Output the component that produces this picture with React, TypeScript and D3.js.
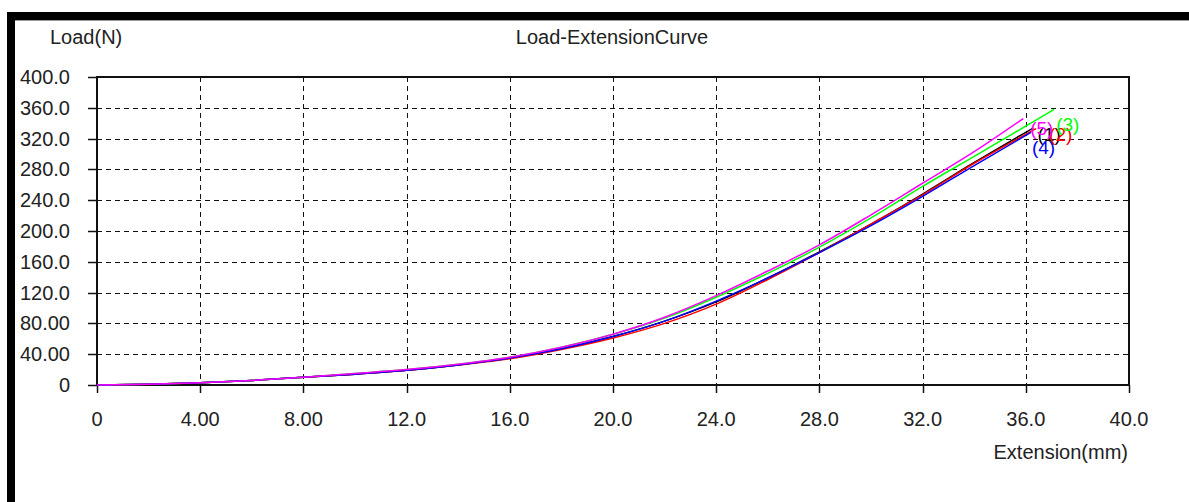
import React from "react";
import * as d3 from "d3";

// extension (mm) readings, shared by all specimens
const ext = [0, 2, 4, 6, 8, 10, 12, 14, 16, 18, 20, 22, 24, 26, 28, 30, 32, 34];

// load (N) per specimen at the extensions above, then the break point
const load1 = [0, 1, 3, 6, 10, 14, 19, 26, 35, 47, 63, 83, 108, 139, 173, 209, 248, 289];
const load2 = [0, 1, 3, 6, 10, 14, 19, 26, 34, 46, 61, 80, 105, 137, 172, 209, 247, 288];
const load3 = [0, 1, 3, 6, 10, 15, 20, 27, 36, 49, 66, 87, 114, 145, 179, 217, 258, 297];
const load4 = [0, 1, 3, 6, 10, 14, 19, 26, 35, 47, 63, 83, 109, 139, 172, 207, 245, 285];
const load5 = [0, 1, 3, 6, 10, 15, 20, 27, 36, 49, 66, 88, 116, 148, 182, 221, 262, 303];

const breakExt = [36.3, 36.4, 37.1, 36.2, 35.9];
const breakLoad = [334, 333, 358, 328, 346];

const names = ["(1)", "(2)", "(3)", "(4)", "(5)"];
const colors = ["#000000", "#ff0000", "#00ff00", "#0000ff", "#ff00ff"];

const yTicks = [0, 40, 80, 120, 160, 200, 240, 280, 320, 360, 400];
const yLabels = ["0", "40.00", "80.00", "120.0", "160.0", "200.0", "240.0", "280.0", "320.0", "360.0", "400.0"];
const xTicks = [0, 4, 8, 12, 16, 20, 24, 28, 32, 36, 40];
const xLabels = ["0", "4.00", "8.00", "12.0", "16.0", "20.0", "24.0", "28.0", "32.0", "36.0", "40.0"];

// where each end label sits relative to its break point (px)
const labelOffset = [[4, 13], [13, 12], [2, 22], [1, 22], [7, 16]];

const W = 1189;
const H = 502;

export default function App() {
  const x = d3.scaleLinear().domain([0, 40]).range([97, 1129]);
  const y = d3.scaleLinear().domain([0, 400]).range([385, 77]);

  const series = [load1, load2, load3, load4, load5].map((arr, i) => {
    const pts: [number, number][] = ext.map((e, j) => [e, arr[j]]);
    pts.push([breakExt[i], breakLoad[i]]);
    return pts;
  });

  const line = d3
    .line<[number, number]>()
    .x((d) => x(d[0]))
    .y((d) => y(d[1]))
    .curve(d3.curveMonotoneX);

  const font = "'Liberation Sans', Arial, sans-serif";
  const px = (v: number) => Math.round(v) + 0.5;

  return (
    <svg
      width={W}
      height={H}
      style={{ position: "absolute", left: 0, top: 0, background: "#fff" }}
      fontFamily={font}
    >
      {/* window frame */}
      <rect x={7} y={12} width={W - 7} height={8} fill="#000" />
      <line x1={15} x2={W} y1={20.5} y2={20.5} stroke="#999" />
      <rect x={7} y={12} width={8} height={H - 12} fill="#000" />

      {/* grid */}
      {yTicks.slice(1, -1).map((t) => (
        <line key={"gy" + t} x1={x(0)} x2={x(40)} y1={px(y(t))} y2={px(y(t))}
          stroke="#111" strokeDasharray="5,4" />
      ))}
      {xTicks.slice(1, -1).map((t) => (
        <line key={"gx" + t} x1={px(x(t))} x2={px(x(t))} y1={y(400)} y2={y(0)}
          stroke="#111" strokeDasharray="5,4" />
      ))}

      {/* frame + ticks */}
      <rect x={x(0)} y={y(400)} width={x(40) - x(0)} height={y(0) - y(400)}
        fill="none" stroke="#111" strokeWidth={2} />
      {yTicks.map((t) => (
        <line key={"ty" + t} x1={88} x2={x(0)} y1={px(y(t))} y2={px(y(t))} stroke="#111" strokeWidth={1.5} />
      ))}
      {xTicks.map((t) => (
        <line key={"tx" + t} x1={px(x(t))} x2={px(x(t))} y1={y(0)} y2={y(0) + 8} stroke="#111" strokeWidth={1.5} />
      ))}

      {/* tick labels */}
      {yTicks.map((t, i) => (
        <text key={"ly" + t} x={70} y={y(t) + 7} fontSize={20} textAnchor="end" fill="#222">
          {yLabels[i]}
        </text>
      ))}
      {xTicks.map((t, i) => (
        <text key={"lx" + t} x={x(t)} y={426} fontSize={20} textAnchor="middle" fill="#222">
          {xLabels[i]}
        </text>
      ))}

      {/* titles */}
      <text x={50} y={44} fontSize={20} fill="#222">Load(N)</text>
      <text x={612} y={44} fontSize={20} textAnchor="middle" fill="#222">Load-ExtensionCurve</text>
      <text x={1128} y={459} fontSize={20} textAnchor="end" fill="#222">Extension(mm)</text>

      {/* curves */}
      {series.map((pts, i) => (
        <path key={"s" + i} d={line(pts) || ""} fill="none" stroke={colors[i]} strokeWidth={1.5} />
      ))}

      {/* end labels */}
      {series.map((pts, i) => {
        const last = pts[pts.length - 1];
        return (
          <text key={"n" + i} x={x(last[0]) + labelOffset[i][0]} y={y(last[1]) + labelOffset[i][1]}
            fontSize={19} fill={colors[i]}>
            {names[i]}
          </text>
        );
      })}
    </svg>
  );
}
